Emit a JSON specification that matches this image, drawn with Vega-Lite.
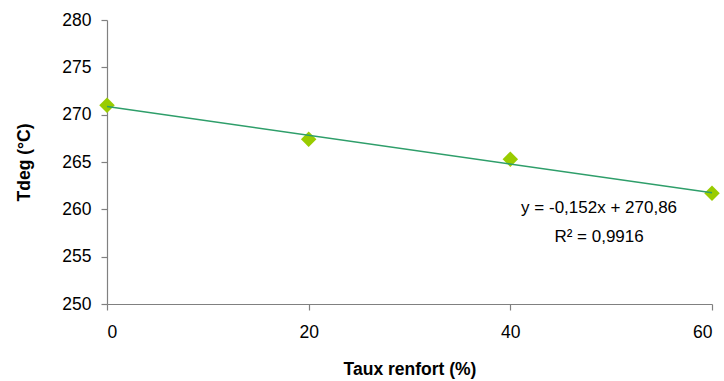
{
  "$schema": "https://vega.github.io/schema/vega-lite/v6.json",
  "width": 605,
  "height": 284,
  "autosize": {"type": "none"},
  "padding": {"left": 107, "top": 20, "right": 12, "bottom": 77},
  "background": "white",
  "config": {
    "view": {"stroke": null},
    "font": "Liberation Sans",
    "axis": {
      "grid": false,
      "domainColor": "#808080",
      "tickColor": "#808080",
      "domainWidth": 1.2,
      "tickWidth": 1.2,
      "labelFont": "Liberation Sans",
      "labelFontSize": 17.5,
      "labelColor": "#000000",
      "titleFont": "Liberation Sans",
      "titleFontSize": 17.5,
      "titleFontWeight": "bold",
      "titleColor": "#000000"
    }
  },
  "datasets": {
    "pts": [
      {"taux": 0, "tdeg": 271.0},
      {"taux": 20, "tdeg": 267.4},
      {"taux": 40, "tdeg": 265.3},
      {"taux": 60, "tdeg": 261.7}
    ],
    "trend": [
      {"taux": 0, "tdeg": 270.86},
      {"taux": 60, "tdeg": 261.74}
    ],
    "labels": [
      {"taux": 48.8, "tdeg": 260.1, "txt": "y = -0,152x + 270,86"},
      {"taux": 48.8, "tdeg": 257.1, "txt": "R² = 0,9916"}
    ]
  },
  "layer": [
    {
      "data": {"name": "pts"},
      "mark": {"type": "point", "shape": "diamond", "filled": true, "size": 240, "color": "#99CC00", "opacity": 1},
      "encoding": {
        "x": {
          "field": "taux", "type": "quantitative",
          "scale": {"domain": [0, 60], "nice": false, "zero": false},
          "axis": {"values": [0, 20, 40, 60], "title": "Taux renfort (%)", "tickSize": 6, "labelPadding": 13, "titlePadding": 20}
        },
        "y": {
          "field": "tdeg", "type": "quantitative",
          "scale": {"domain": [250, 280], "nice": false, "zero": false},
          "axis": {"values": [250, 255, 260, 265, 270, 275, 280], "title": "Tdeg (°C)", "tickSize": 6, "labelPadding": 10, "titlePadding": 28}
        }
      }
    },
    {
      "data": {"name": "trend"},
      "mark": {"type": "line", "color": "#2E9E6A", "strokeWidth": 1.5},
      "encoding": {
        "x": {"field": "taux", "type": "quantitative"},
        "y": {"field": "tdeg", "type": "quantitative"}
      }
    },
    {
      "data": {"name": "labels"},
      "mark": {"type": "text", "fontSize": 17, "color": "#000000", "align": "center", "baseline": "middle", "font": "Liberation Sans"},
      "encoding": {
        "x": {"field": "taux", "type": "quantitative"},
        "y": {"field": "tdeg", "type": "quantitative"},
        "text": {"field": "txt"}
      }
    }
  ]
}
